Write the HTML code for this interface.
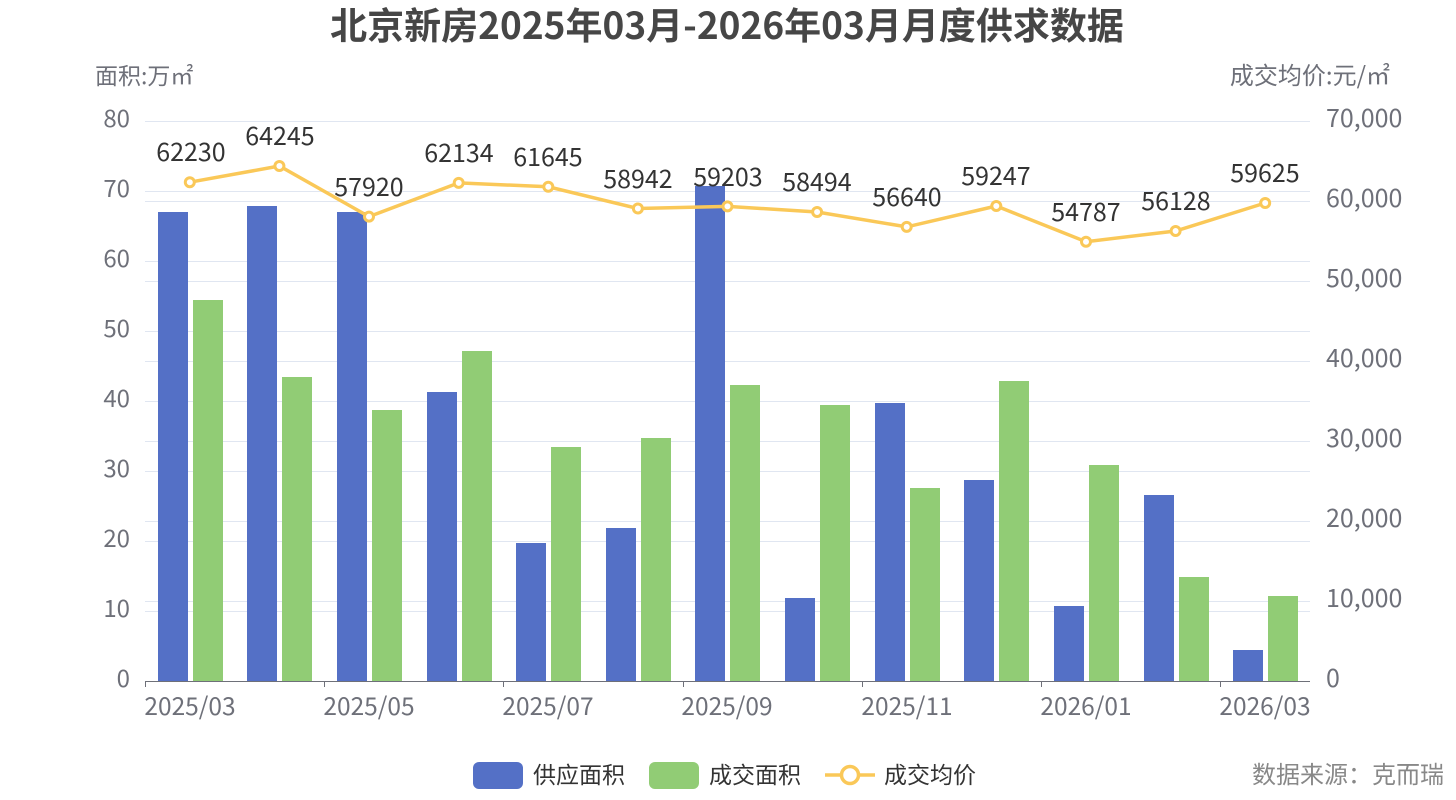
<!DOCTYPE html><html><head><meta charset="utf-8"><style>body{margin:0;background:#fff}svg{display:block}text{font-family:"Noto Sans CJK SC","Liberation Sans",sans-serif}</style></head><body>
<svg width="1456" height="800" xmlns="http://www.w3.org/2000/svg">
<text x="727" y="39" text-anchor="middle" font-size="37" font-weight="bold" fill="#464646">北京新房2025年03月-2026年03月月度供求数据</text>
<text x="95" y="84" font-size="23" fill="#6e7079">面积:万㎡</text>
<text x="1390" y="84" font-size="24" fill="#6e7079" text-anchor="end">成交均价:元/㎡</text>
<g stroke="#e0e6f1" stroke-width="1">
<line x1="145" x2="1310" y1="121.5" y2="121.5"/><line x1="145" x2="1310" y1="191.5" y2="191.5"/><line x1="145" x2="1310" y1="261.5" y2="261.5"/><line x1="145" x2="1310" y1="331.5" y2="331.5"/><line x1="145" x2="1310" y1="401.5" y2="401.5"/><line x1="145" x2="1310" y1="471.5" y2="471.5"/><line x1="145" x2="1310" y1="541.5" y2="541.5"/><line x1="145" x2="1310" y1="611.5" y2="611.5"/>
<line x1="145" x2="1310" y1="201.5" y2="201.5"/><line x1="145" x2="1310" y1="281.5" y2="281.5"/><line x1="145" x2="1310" y1="361.5" y2="361.5"/><line x1="145" x2="1310" y1="441.5" y2="441.5"/><line x1="145" x2="1310" y1="521.5" y2="521.5"/><line x1="145" x2="1310" y1="601.5" y2="601.5"/>
</g>
<g font-size="24" fill="#6e7079" text-anchor="end">
<text x="130" y="127">80</text><text x="130" y="197">70</text><text x="130" y="267">60</text><text x="130" y="337">50</text><text x="130" y="407">40</text><text x="130" y="477">30</text><text x="130" y="547">20</text><text x="130" y="617">10</text><text x="130" y="687">0</text>
</g>
<g font-size="25" fill="#6e7079">
<text x="1326" y="127">70,000</text><text x="1326" y="207">60,000</text><text x="1326" y="287">50,000</text><text x="1326" y="367">40,000</text><text x="1326" y="447">30,000</text><text x="1326" y="527">20,000</text><text x="1326" y="607">10,000</text><text x="1326" y="687">0</text>
</g>
<g fill="#5470c6">
<rect x="158" y="212" width="30" height="469"/><rect x="247" y="206" width="30" height="475"/><rect x="337" y="212" width="30" height="469"/><rect x="427" y="392" width="30" height="289"/><rect x="516" y="543" width="30" height="138"/><rect x="606" y="528" width="30" height="153"/><rect x="695" y="186" width="30" height="495"/><rect x="785" y="598" width="30" height="83"/><rect x="875" y="403" width="30" height="278"/><rect x="964" y="480" width="30" height="201"/><rect x="1054" y="606" width="30" height="75"/><rect x="1144" y="495" width="30" height="186"/><rect x="1233" y="650" width="30" height="31"/>
</g>
<g fill="#91cc75">
<rect x="193" y="300" width="30" height="381"/><rect x="282" y="377" width="30" height="304"/><rect x="372" y="410" width="30" height="271"/><rect x="462" y="351" width="30" height="330"/><rect x="551" y="447" width="30" height="234"/><rect x="641" y="438" width="30" height="243"/><rect x="730" y="385" width="30" height="296"/><rect x="820" y="405" width="30" height="276"/><rect x="910" y="488" width="30" height="193"/><rect x="999" y="381" width="30" height="300"/><rect x="1089" y="465" width="30" height="216"/><rect x="1179" y="577" width="30" height="104"/><rect x="1268" y="596" width="30" height="85"/>
</g>
<line x1="145" x2="1310" y1="681.5" y2="681.5" stroke="#6e7079"/>
<g stroke="#6e7079"><line x1="145.5" x2="145.5" y1="681" y2="687"/><line x1="324.5" x2="324.5" y1="681" y2="687"/><line x1="503.5" x2="503.5" y1="681" y2="687"/><line x1="683.5" x2="683.5" y1="681" y2="687"/><line x1="862.5" x2="862.5" y1="681" y2="687"/><line x1="1041.5" x2="1041.5" y1="681" y2="687"/><line x1="1220.5" x2="1220.5" y1="681" y2="687"/></g>
<g font-size="24.5" fill="#6e7079" text-anchor="middle">
<text x="190" y="715">2025/03</text><text x="369" y="715">2025/05</text><text x="548" y="715">2025/07</text><text x="727" y="715">2025/09</text><text x="907" y="715">2025/11</text><text x="1086" y="715">2026/01</text><text x="1265" y="715">2026/03</text>
</g>
<polyline fill="none" stroke="#fac858" stroke-width="3.5" points="189.8,182.2 279.4,166 369,216.6 458.7,182.9 548.3,186.8 637.9,208.5 727.5,206.4 817.1,212 906.7,226.9 996.3,206 1086,241.7 1175.6,231 1265.2,203"/>
<g fill="#fff" stroke="#fac858" stroke-width="3">
<circle cx="189.8" cy="182.2" r="4.5"/><circle cx="279.4" cy="166" r="4.5"/><circle cx="369" cy="216.6" r="4.5"/><circle cx="458.7" cy="182.9" r="4.5"/><circle cx="548.3" cy="186.8" r="4.5"/><circle cx="637.9" cy="208.5" r="4.5"/><circle cx="727.5" cy="206.4" r="4.5"/><circle cx="817.1" cy="212" r="4.5"/><circle cx="906.7" cy="226.9" r="4.5"/><circle cx="996.3" cy="206" r="4.5"/><circle cx="1086" cy="241.7" r="4.5"/><circle cx="1175.6" cy="231" r="4.5"/><circle cx="1265.2" cy="203" r="4.5"/>
</g>
<g font-size="25" fill="#333" text-anchor="middle">
<text x="191" y="161">62230</text><text x="280" y="145">64245</text><text x="369" y="196">57920</text><text x="459" y="162">62134</text><text x="548" y="166">61645</text><text x="638" y="188">58942</text><text x="728" y="186">59203</text><text x="817" y="191">58494</text><text x="907" y="206">56640</text><text x="996" y="185">59247</text><text x="1086" y="221">54787</text><text x="1176" y="210">56128</text><text x="1265" y="182">59625</text>
</g>
<rect x="473" y="762" width="50" height="27" rx="6" fill="#5470c6"/>
<text x="533" y="783" font-size="23" fill="#333">供应面积</text>
<rect x="649" y="762" width="50" height="27" rx="6" fill="#91cc75"/>
<text x="709" y="783" font-size="23" fill="#333">成交面积</text>
<line x1="825" x2="875" y1="775" y2="775" stroke="#fac858" stroke-width="3.5"/>
<circle cx="850" cy="775" r="8.5" fill="#fff" stroke="#fac858" stroke-width="3.5"/>
<text x="884" y="783" font-size="23" fill="#333">成交均价</text>
<text x="1444" y="783" font-size="24" fill="#888" text-anchor="end">数据来源：克而瑞</text>
</svg></body></html>
